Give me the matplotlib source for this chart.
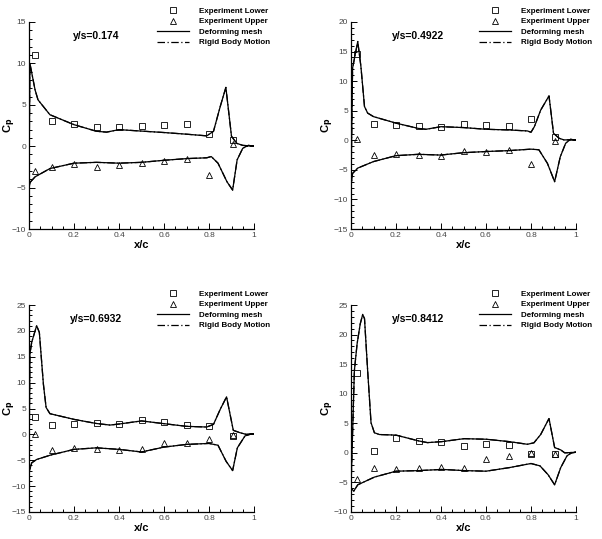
import numpy as np
import matplotlib.pyplot as plt
from matplotlib.ticker import MultipleLocator

plt.rcParams['font.family'] = ['Liberation Sans', 'DejaVu Sans']

# --------------- data ---------------
stations = ['y/s=0.174', 'y/s=0.4922', 'y/s=0.6932', 'y/s=0.8412']
ylims = [(-10, 15), (-15, 20), (-15, 25), (-10, 25)]

# experiment (x/c, Cp)
exp_x = [0.025, 0.1, 0.2, 0.3, 0.4, 0.5, 0.6, 0.7, 0.8, 0.905]
exp_lower = [
    [11.05, 3.06, 2.74, 2.34, 2.3, 2.42, 2.58, 2.74, 1.49, 0.73],
    [14.6, 2.7, 2.6, 2.37, 2.26, 2.82, 2.54, 2.43, 3.56, 0.56],
    [3.4, 1.8, 2.07, 2.14, 2.0, 2.78, 2.33, 1.75, 1.55, -0.3],
    [13.56, 0.25, 2.58, 2.0, 1.84, 1.1, 1.44, 1.33, -0.14, -0.2],
]
exp_upper = [
    [-2.94, -2.54, -2.14, -2.54, -2.3, -2.06, -1.73, -1.57, -3.43, 0.28],
    [0.28, -2.54, -2.37, -2.48, -2.65, -1.8, -1.92, -1.7, -3.95, -0.1],
    [0.0, -3.1, -2.6, -2.85, -3.0, -2.9, -1.6, -1.6, -0.8, -0.1],
    [-4.45, -2.52, -2.75, -2.58, -2.4, -2.63, -1.1, -0.54, 0.0, -0.2],
]

# CFD, lower surface (positive Cp branch)
cfd_lo_x = [
    [0.0, 0.004, 0.027, 0.04, 0.093, 0.2, 0.3, 0.345, 0.4, 0.6, 0.7, 0.79, 0.82, 0.85, 0.875, 0.9, 0.923, 0.95, 1.0],
    [0.0, 0.007, 0.03, 0.044, 0.06, 0.074, 0.1, 0.2, 0.3, 0.333, 0.4, 0.5, 0.6, 0.7, 0.784, 0.8, 0.815, 0.843, 0.88, 0.9, 0.925, 0.947, 1.0],
    [0.0, 0.004, 0.012, 0.034, 0.046, 0.064, 0.076, 0.093, 0.2, 0.3, 0.36, 0.4, 0.5, 0.6, 0.7, 0.79, 0.82, 0.85, 0.878, 0.908, 0.938, 0.965, 1.0],
    [0.0, 0.015, 0.027, 0.041, 0.052, 0.06, 0.074, 0.089, 0.104, 0.126, 0.2, 0.303, 0.34, 0.404, 0.503, 0.602, 0.703, 0.784, 0.813, 0.843, 0.88, 0.905, 0.932, 0.95, 1.0],
]
cfd_lo_cp = [
    [-4.9, 10.0, 6.8, 5.6, 3.8, 2.6, 1.8, 1.7, 2.0, 1.65, 1.45, 1.25, 1.8, 4.8, 7.1, 1.2, 0.35, 0.1, 0.0],
    [-7.8, 12.2, 16.7, 12.5, 5.7, 4.6, 4.0, 2.9, 2.0, 1.86, 2.3, 2.15, 1.86, 1.75, 1.58, 1.36, 2.3, 5.1, 7.5, 1.2, 0.34, 0.06, 0.1],
    [-7.4, 15.5, 17.8, 21.0, 19.7, 9.7, 5.2, 4.0, 2.9, 2.1, 1.8, 2.0, 2.6, 2.07, 1.55, 1.42, 1.94, 4.85, 7.25, 0.78, 0.32, 0.0, 0.1],
    [-5.9, 13.9, 18.4, 21.8, 23.4, 22.7, 13.9, 5.1, 3.4, 3.1, 3.0, 2.0, 1.73, 1.9, 2.4, 2.3, 1.9, 1.45, 1.7, 3.1, 5.8, 0.9, 0.5, 0.0, 0.1],
]
# CFD, upper surface (negative Cp branch)
cfd_up_x = [
    [0.0, 0.007, 0.027, 0.093, 0.2, 0.3, 0.4, 0.5, 0.6, 0.7, 0.79, 0.81, 0.84, 0.88, 0.905, 0.925, 0.95, 0.975, 1.0],
    [0.0, 0.007, 0.03, 0.1, 0.2, 0.3, 0.4, 0.43, 0.5, 0.6, 0.7, 0.8, 0.835, 0.873, 0.905, 0.93, 0.954, 0.976, 1.0],
    [0.0, 0.012, 0.034, 0.096, 0.2, 0.3, 0.4, 0.5, 0.6, 0.7, 0.8, 0.84, 0.876, 0.905, 0.926, 0.96, 0.982, 1.0],
    [0.0, 0.012, 0.03, 0.104, 0.2, 0.303, 0.404, 0.503, 0.6, 0.703, 0.8, 0.84, 0.876, 0.905, 0.932, 0.96, 0.98, 1.0],
]
cfd_up_cp = [
    [-4.9, -4.3, -3.7, -2.7, -2.05, -1.95, -2.05, -1.95, -1.7, -1.5, -1.4, -1.25, -2.05, -4.3, -5.3, -1.65, -0.25, 0.1, 0.0],
    [-7.8, -5.6, -4.7, -3.6, -2.6, -2.37, -2.5, -2.37, -2.1, -1.9, -1.75, -1.5, -1.6, -3.9, -7.0, -2.8, -0.5, 0.17, 0.0],
    [-7.4, -5.5, -4.85, -4.0, -2.9, -2.6, -2.9, -3.4, -2.46, -1.94, -1.75, -2.1, -5.2, -7.0, -2.6, -0.3, 0.0, 0.1],
    [-5.9, -6.5, -5.4, -4.1, -3.1, -3.0, -2.8, -3.0, -3.1, -2.5, -1.8, -2.2, -3.7, -5.4, -2.5, -0.5, 0.0, 0.1],
]

# --------------- figure ---------------
fig = plt.figure(figsize=(6.02, 5.39), dpi=100)
lefts = [29, 351, 29, 351]
tops = [22, 22, 305, 305]
W, H = 602.0, 539.0

for k in range(4):
    ax = fig.add_axes([lefts[k] / W, 1 - (tops[k] + 207) / H, 225 / W, 207 / H])
    # rigid body motion = same surface curves drawn dash-dot underneath
    xs = cfd_up_x[k][::-1] + cfd_lo_x[k]
    cps = cfd_up_cp[k][::-1] + cfd_lo_cp[k]
    ax.plot(xs, cps, color='black', lw=0.9, ls=(0, (6, 2, 1, 2)), label='Rigid Body Motion', zorder=2)
    ax.plot(xs, cps, color='black', lw=0.9, label='Deforming mesh', zorder=3)
    ax.plot(exp_x, exp_lower[k], ls='none', marker='s', ms=4.5, mfc='none', mec='black',
            mew=0.6, label='Experiment Lower', zorder=4)
    ax.plot(exp_x, exp_upper[k], ls='none', marker='^', ms=4.5, mfc='none', mec='black',
            mew=0.6, label='Experiment Upper', zorder=4)

    ax.set_xlim(0, 1)
    ax.set_ylim(*ylims[k])
    ax.xaxis.set_major_locator(MultipleLocator(0.2))
    ax.xaxis.set_minor_locator(MultipleLocator(0.05))
    ax.yaxis.set_major_locator(MultipleLocator(5))
    ax.yaxis.set_minor_locator(MultipleLocator(1))
    ax.xaxis.set_major_formatter(plt.FuncFormatter(lambda v, p: '%g' % round(v, 2)))
    ax.tick_params(which='both', direction='in', top=False, right=False,
                   labelsize=6, labelcolor='#444444', width=0.7, pad=2)
    ax.tick_params(which='major', length=4)
    ax.tick_params(which='minor', length=2)
    for s in ['top', 'right']:
        ax.spines[s].set_visible(False)
    for s in ['left', 'bottom']:
        ax.spines[s].set_linewidth(0.9)

    ax.set_xlabel('x/c', fontsize=8, fontweight='bold', labelpad=1)
    ax.set_ylabel(r'C$_\mathbf{p}$', fontsize=8, fontweight='bold')
    ax.yaxis.set_label_coords(-0.05 if k in (0, 2) else -0.065, 0.5)
    ax.text(0.30, 0.93, stations[k], transform=ax.transAxes, ha='center', va='center',
            fontsize=7.5, fontweight='bold')

    h, l = ax.get_legend_handles_labels()
    order = [2, 3, 1, 0]
    leg = ax.legend([h[i] for i in order], [l[i] for i in order], loc='upper right',
                    bbox_to_anchor=(1.09, 1.09), frameon=False, fontsize=5.8,
                    handlelength=4.0, labelspacing=0.35, handletextpad=1.2, borderpad=0)
    for t in leg.get_texts():
        t.set_fontweight('bold')

fig.savefig('out.png', dpi=100)
